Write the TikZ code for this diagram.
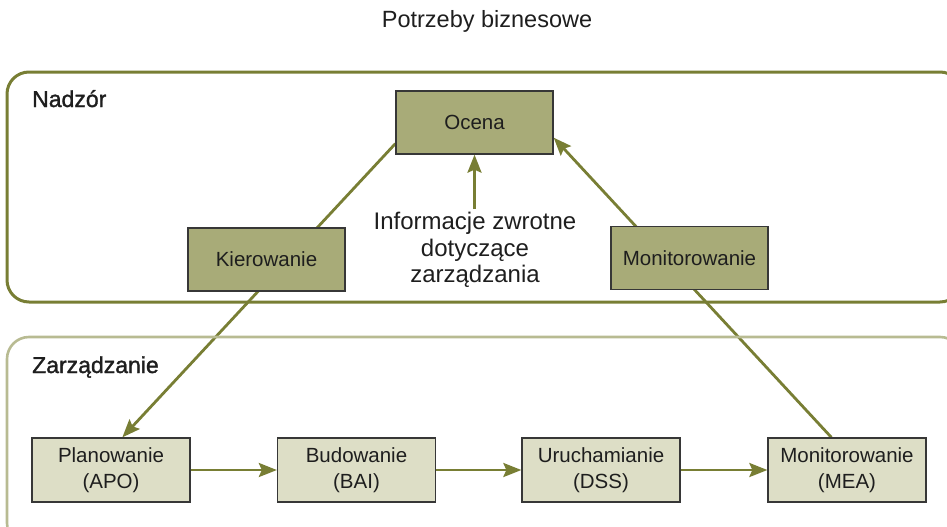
\documentclass[tikz,border=0pt]{standalone}
\usepackage{fontspec}
\setmainfont{Liberation Sans}
\newfontfamily\semib{Liberation Sans}[FakeBold=1.4]
\usetikzlibrary{arrows.meta,calc,backgrounds}
\definecolor{olivedark}{RGB}{120,126,52}
\definecolor{olivelight}{RGB}{184,187,146}
\definecolor{boxdark}{RGB}{168,171,120}
\definecolor{boxlight}{RGB}{221,222,198}
\definecolor{boxedge}{RGB}{55,55,55}
\definecolor{txt}{RGB}{30,30,30}
\tikzset{
  topbox/.style={draw=boxedge, line width=1.3pt, fill=boxdark, minimum width=157pt, minimum height=63pt, inner sep=0pt, text=txt, font=\fontsize{20.5}{25}\selectfont},
  lowbox/.style={draw=boxedge, line width=1.3pt, fill=boxlight, minimum width=158pt, minimum height=64pt, inner sep=0pt, align=center, text=txt, font=\fontsize{20.5}{26}\selectfont},
  conn/.style={draw=olivedark, line width=2.8pt},
  arr/.style={conn, -{Stealth[length=18pt,width=14pt,inset=3pt]}},
  grouplabel/.style={anchor=base west, inner sep=0pt, text=txt, font=\semib\fontsize{23}{27}\selectfont},
}
\begin{document}
\begin{tikzpicture}[x=1pt,y=-1pt]
\useasboundingbox (0,0) rectangle (947,527);
% group frames
\draw[olivedark, line width=3pt, rounded corners=22pt] (7,72) rectangle (962,302);
\draw[olivelight, line width=2.6pt, rounded corners=22pt] (7,337) rectangle (962,545);
% title and labels
\node[anchor=base, inner sep=0pt, text=txt, font=\fontsize{23.5}{28}\selectfont] (title) at (487,28) {Potrzeby biznesowe};
\node[grouplabel] (nadzor) at (32,107) {Nadzór};
\node[grouplabel] (zarz) at (32,373) {Zarządzanie};
% nodes
\node[topbox] (ocena) at (474.5,122.5) {Ocena};
\node[topbox] (kier) at (266.5,259.5) {Kierowanie};
\node[topbox] (montop) at (689.5,258) {Monitorowanie};
\node[lowbox] (apo) at (111,470) {Planowanie\\(APO)};
\node[lowbox] (bai) at (356.5,470) {Budowanie\\(BAI)};
\node[lowbox] (dss) at (601,470) {Uruchamianie\\(DSS)};
\node[lowbox] (mea) at (847,470) {Monitorowanie\\(MEA)};
\node[align=center, inner sep=0pt, anchor=north, text=txt, font=\fontsize{24}{26.5}\selectfont] (fb) at (475,212) {Informacje zwrotne\\dotyczące\\zarządzania};
% connectors
\begin{scope}[on background layer]
\draw[arr] ($(ocena.south west)+(0,-11)$) -- ($(apo.north west)+(91,0)$);
\draw[arr] ($(mea.north west)+(64,0)$) -- ($(ocena.south east)+(0,-17)$);
\end{scope}
\draw[arr] ($(ocena.south |- fb.north)+(0,-3)$) -- (ocena.south);
\draw[arr] (apo.east) -- (bai.west);
\draw[arr] (bai.east) -- (dss.west);
\draw[arr] (dss.east) -- (mea.west);
\end{tikzpicture}
\end{document}
